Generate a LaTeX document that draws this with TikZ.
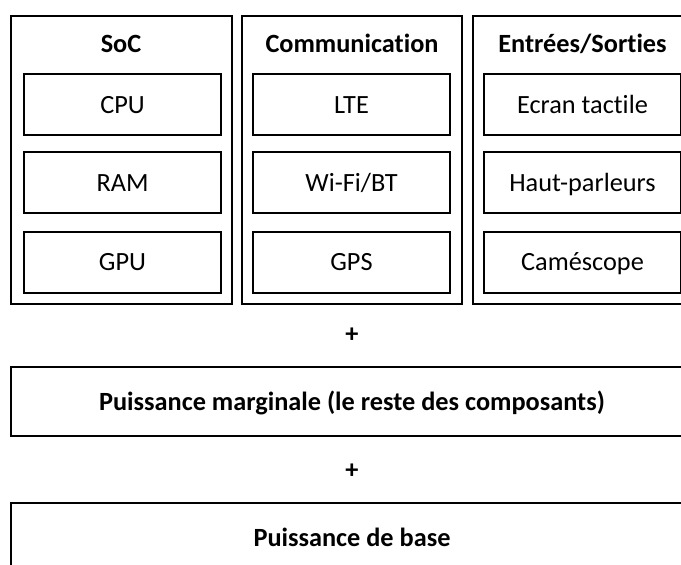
\documentclass[tikz,border=0pt]{standalone}
\usepackage{fontspec}
\setmainfont[Ligatures=NoCommon]{Carlito}
\begin{document}
\begin{tikzpicture}[x=1pt,y=-1pt,
  txt/.style={inner sep=0pt,text height=17pt,text depth=0pt,font=\fontsize{26.3}{30}\selectfont},
  btxt/.style={txt,font=\fontsize{26.3}{30}\selectfont\bfseries},
  group/.style={draw=black,line width=2pt,inner sep=0pt},
  item/.style={txt,draw=black,line width=2pt,minimum width=197pt,minimum height=61pt},
  wide/.style={btxt,draw=black,line width=2pt,minimum width=682pt,minimum height=69pt}]
\useasboundingbox (0,0) rectangle (681,565);
\clip (0,0) rectangle (681,565);
\fill[white] (0,0) rectangle (681,565);
% groups
\node[group,minimum width=220.5pt,minimum height=288pt] (soc) at (121.25,160) {};
\node[group,minimum width=220pt,minimum height=288pt] (com) at (352,160) {};
\node[group,minimum width=220pt,minimum height=288pt] (io) at (583,160) {};
% titles
\node[btxt] (socT) at (121,44) {SoC};
\node[btxt] (comT) at (352,44) {Communication};
\node[btxt] (ioT) at (582.5,44) {Entrées/Sorties};
% items
\node[item] (cpu) at (122.5,104.5) {CPU};
\node[item] (ram) at (122.5,182.5) {RAM};
\node[item] (gpu) at (122.5,262) {GPU};
\node[item] (lte) at (351.5,104.5) {LTE};
\node[item] (wifi) at (351.5,182.5) {Wi-Fi/BT};
\node[item] (gps) at (351.5,262) {GPS};
\node[item] (ecran) at (582.5,104.5) {Ecran tactile};
\node[item] (haut) at (582.5,182.5) {Haut-parleurs};
\node[item] (cam) at (582.5,262) {Caméscope};
% plus signs
\node[btxt] (p1) at (352,334) {+};
\node[btxt] (p2) at (352,470) {+};
% wide boxes
\node[wide] (marg) at (352,401.5) {Puissance marginale (le reste des composants)};
\node[wide] (base) at (352,537.5) {Puissance de base};
\end{tikzpicture}
\end{document}
